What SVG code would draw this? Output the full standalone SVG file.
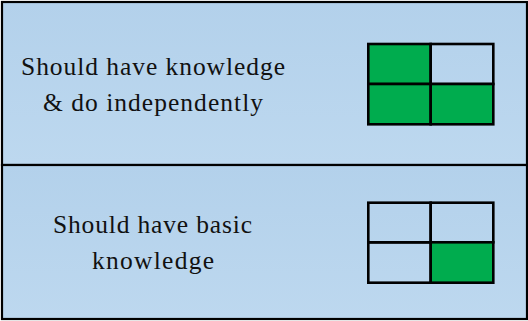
<svg xmlns="http://www.w3.org/2000/svg" width="528" height="321" viewBox="0 0 528 321">
  <defs>
    <linearGradient id="bg" x1="0" y1="0" x2="0" y2="1">
      <stop offset="0" stop-color="#B3D1EB"/>
      <stop offset="1" stop-color="#BDD8EF"/>
    </linearGradient>
    <style>
      .panel { fill: url(#bg); stroke: #000; stroke-width: 2.2; }
      .cell { stroke: #000; stroke-width: 2.6; }
      .on { fill: #00AC4E; }
      .off { fill: none; }
      .lbl { font-family: "Liberation Serif", "Times New Roman", serif; font-size: 25.5px; fill: #111; }
    </style>
  </defs>
  <rect width="528" height="321" fill="#ffffff"/>
  <g id="panel-top">
    <rect class="panel" x="2" y="2" width="525" height="163"/>
    <text class="lbl" x="21" y="75" textLength="264" lengthAdjust="spacing">Should have knowledge</text>
    <text class="lbl" x="43" y="111" textLength="220" lengthAdjust="spacing">&amp; do independently</text>
    <g id="grid-top">
      <rect class="cell on" x="368.3" y="44" width="62.4" height="40"/>
      <rect class="cell off" x="430.7" y="44" width="62.6" height="40"/>
      <rect class="cell on" x="368.3" y="84" width="62.4" height="40.3"/>
      <rect class="cell on" x="430.7" y="84" width="62.6" height="40.3"/>
    </g>
  </g>
  <g id="panel-bottom">
    <rect class="panel" x="2" y="165" width="525" height="154"/>
    <text class="lbl" x="53" y="233" textLength="199" lengthAdjust="spacing">Should have basic</text>
    <text class="lbl" x="92" y="269" textLength="122" lengthAdjust="spacing">knowledge</text>
    <g id="grid-bottom">
      <rect class="cell off" x="368.3" y="202.7" width="62.4" height="39.6"/>
      <rect class="cell off" x="430.7" y="202.7" width="62.6" height="39.6"/>
      <rect class="cell off" x="368.3" y="242.3" width="62.4" height="40.4"/>
      <rect class="cell on" x="430.7" y="242.3" width="62.6" height="40.4"/>
    </g>
  </g>
  <g id="connectors"></g>
</svg>
